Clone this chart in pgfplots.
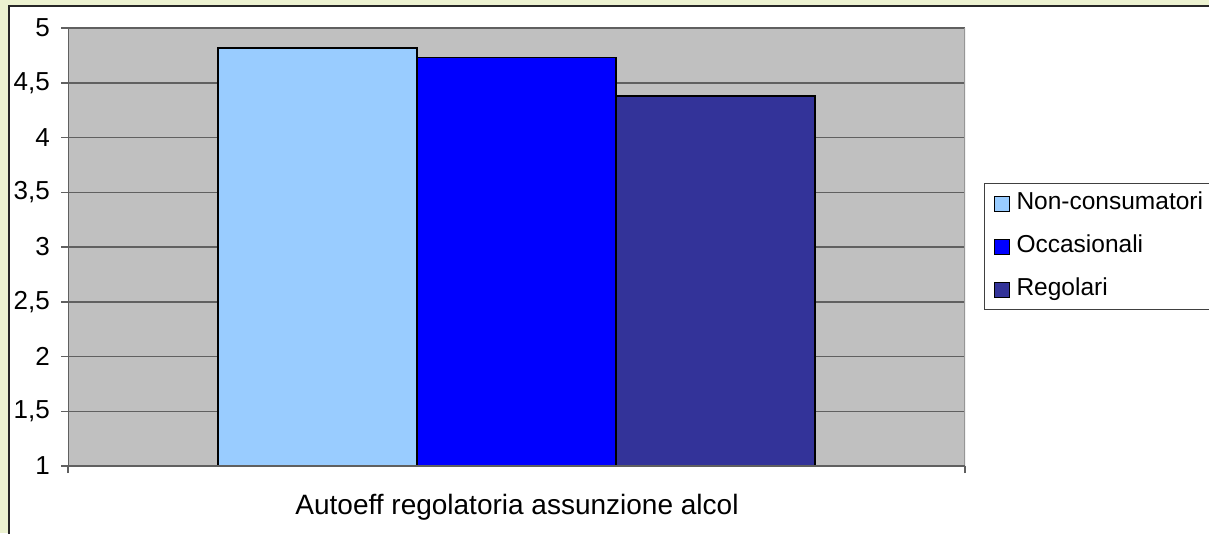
\documentclass[border=0pt]{standalone}
\usepackage{fontspec}
\setmainfont{Liberation Sans}
\usepackage{pgfplots}
\pgfplotsset{compat=1.18}

\definecolor{pagebg}{RGB}{236,242,208}
\definecolor{plotbg}{RGB}{192,192,192}
\definecolor{gridc}{RGB}{96,96,96}
\definecolor{framec}{RGB}{150,150,150}
\definecolor{nonc}{RGB}{153,204,255}
\definecolor{occ}{RGB}{0,0,255}
\definecolor{reg}{RGB}{51,51,153}

\begin{document}
\begin{tikzpicture}[x=1pt,y=1pt]
\clip (0,0) rectangle (1209,533);
% page and chart area
\fill[pagebg] (0,0) rectangle (1209,533);
\filldraw[fill=white,draw=black!85,line width=2pt] (9,-20) rectangle (1240,527);

\begin{axis}[
  at={(68pt,67pt)}, anchor=south west,
  scale only axis, width=897pt, height=438pt,
  xmin=0, xmax=2, ymin=1, ymax=5,
  axis background/.style={fill=plotbg},
  axis line style={draw=none},
  ybar=0pt, bar width=199pt,
  xtick={0,2}, xticklabels={},
  ytick={1,1.5,2,2.5,3,3.5,4,4.5,5},
  tick pos=left, tick align=outside,
  major tick length=7pt,
  tick style={draw=gridc, line width=1.5pt},
  ymajorgrids,
  major grid style={draw=gridc, line width=1.5pt},
  /pgf/number format/.cd, use comma, fixed, precision=1, assume math mode=true,
  /pgfplots/.cd,
  yticklabel style={font=\fontsize{26}{31}\selectfont, inner sep=0pt, xshift=-11pt},
  legend style={at={(1.0212,0.6461)}, anchor=north west,
    draw=black!75, line width=1pt, fill=white,
    font=\fontsize{24.5}{30}\selectfont,
    inner xsep=9pt, inner ysep=8pt, row sep=19pt, column sep=7pt,
    nodes={inner sep=0pt, text height=18pt, text depth=6pt}},
  legend cell align=left,
  legend image code/.code={\draw[#1,draw=black,line width=1pt] (0pt,-7.5pt) rectangle (15pt,7.5pt);},
]
\addplot[fill=nonc, draw=black, line width=1.8pt] coordinates {(1,4.82)};
\addplot[fill=occ,  draw=black, line width=1.8pt] coordinates {(1,4.73)};
\addplot[fill=reg,  draw=black, line width=1.8pt] coordinates {(1,4.38)};
\legend{Non-consumatori,Occasionali,Regolari}
% axis lines
\draw[framec, line width=2pt] (rel axis cs:1,0) -- (rel axis cs:1,1);
\draw[gridc, line width=1.5pt] (rel axis cs:0,1) -- (rel axis cs:0,0) -- (rel axis cs:1,0);
\end{axis}

\node[font=\fontsize{28}{33}\selectfont, anchor=base] at (517,19) {Autoeff regolatoria assunzione alcol};
\end{tikzpicture}
\end{document}
